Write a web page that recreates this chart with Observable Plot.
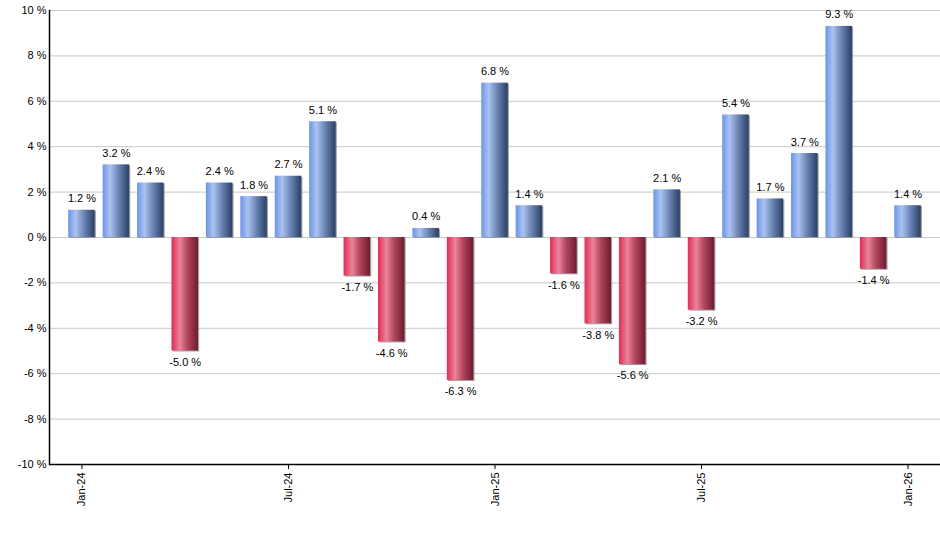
<!DOCTYPE html>
<html><head><meta charset="utf-8">
<script src="https://cdn.jsdelivr.net/npm/d3@7"></script>
<script src="https://cdn.jsdelivr.net/npm/@observablehq/plot@0.6"></script>
<style>body{margin:0;background:#fff;}</style>
</head><body><div id="chart"></div>
<script>
const months = ["Jan-24","Feb-24","Mar-24","Apr-24","May-24","Jun-24","Jul-24","Aug-24","Sep-24","Oct-24","Nov-24","Dec-24",
  "Jan-25","Feb-25","Mar-25","Apr-25","May-25","Jun-25","Jul-25","Aug-25","Sep-25","Oct-25","Nov-25","Dec-25","Jan-26"];
const values = [1.2, 3.2, 2.4, -5.0, 2.4, 1.8, 2.7, 5.1, -1.7, -4.6, 0.4, -6.3,
  6.8, 1.4, -1.6, -3.8, -5.6, 2.1, -3.2, 5.4, 1.7, 3.7, 9.3, -1.4, 1.4];
const tickMonths = ["Jan-24","Jul-24","Jan-25","Jul-25","Jan-26"];
const yTicks = [-10,-8,-6,-4,-2,0,2,4,6,8,10];

const data = months.map((m, i) => ({month: m, value: values[i]}));
const pos = data.filter(d => d.value >= 0);
const neg = data.filter(d => d.value < 0);
const fmt = d => d.value.toFixed(1) + " %";

const chart = Plot.plot({
  width: 940, height: 550,
  marginLeft: 49, marginRight: 0, marginTop: 10, marginBottom: 86,
  style: {fontFamily: "'Liberation Sans', Arial, sans-serif", fontSize: "11px", color: "#000", background: "#fff"},
  x: {type: "band", domain: months, paddingInner: 0.23, paddingOuter: 0.558, round: false},
  y: {domain: [-10, 10]},
  marks: [
    Plot.gridY(yTicks, {stroke: "#c8c8c8", strokeOpacity: 1}),
    Plot.barY(data, {x: "month", y: "value", fill: "#8c8c8c", fillOpacity: 0.8, dx: 1.2, dy: 1}),
    Plot.barY(pos, {x: "month", y: "value", fill: "url(#gradBlue)"}),
    Plot.barY(neg, {x: "month", y: "value", fill: "url(#gradRed)"}),
    Plot.text(pos, {x: "month", y: "value", text: fmt, lineAnchor: "bottom", dy: -8, fill: "#000"}),
    Plot.text(neg, {x: "month", y: "value", text: fmt, lineAnchor: "top", dy: 7, fill: "#000"}),
    Plot.axisY(yTicks, {tickSize: 0, tickPadding: 3, tickFormat: d => d + " %", label: null}),
    Plot.axisX(tickMonths, {tickSize: 5, tickRotate: -90, tickPadding: 3, label: null, stroke: "#000"}),
    Plot.ruleY([-10], {stroke: "#000", strokeWidth: 1.5}),
    Plot.frame({anchor: "left", stroke: "#000", strokeWidth: 1.5})
  ]
});

const svg = d3.select(chart);
const defs = svg.insert("defs", ":first-child");
function grad(id, stops) {
  const g = defs.append("linearGradient").attr("id", id)
    .attr("x1", "0").attr("y1", "0").attr("x2", "1").attr("y2", "0");
  stops.forEach(([o, c]) => g.append("stop").attr("offset", o).attr("stop-color", c));
}
grad("gradBlue", [[0, "#6b95e8"], [0.28, "#abc3f1"], [0.6, "#6a84b4"], [1, "#2b3f66"]]);
grad("gradRed", [[0, "#e02c55"], [0.32, "#ea8499"], [0.6, "#b2475f"], [1, "#6e1a30"]]);

document.getElementById("chart").appendChild(chart);
</script>
</body></html>
